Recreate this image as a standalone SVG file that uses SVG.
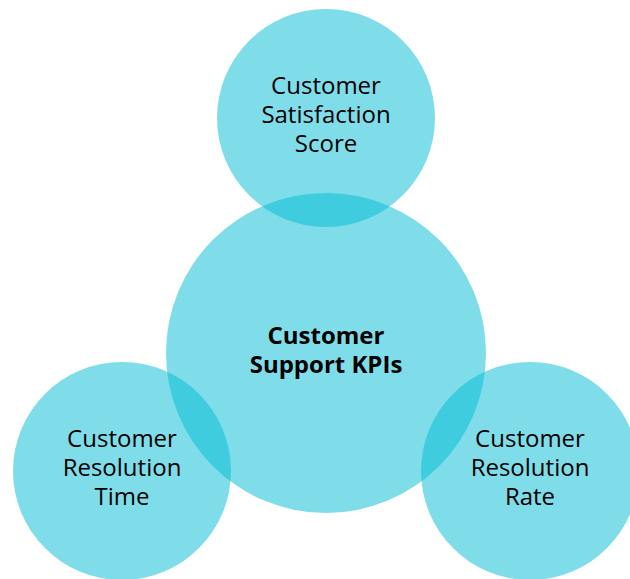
<svg xmlns="http://www.w3.org/2000/svg" width="630" height="579" viewBox="0 0 630 579">
<style>
.c{fill:#00BCD4;fill-opacity:0.5}
.t{font-family:"Open Sans","Noto Sans",sans-serif;font-size:24px;fill:#000;text-anchor:middle}
.b{font-weight:bold}
</style>
<rect width="630" height="579" fill="#fff"/>
<g id="connectors"></g>
<g id="center">
<circle class="c" cx="326" cy="353" r="160"/>
</g>
<g id="top">
<circle class="c" cx="326" cy="118" r="109"/>
</g>
<g id="left">
<circle class="c" cx="122" cy="471" r="109"/>
</g>
<g id="right">
<circle class="c" cx="530" cy="471" r="109"/>
</g>
<g id="labels">
<text class="t b" x="326" y="344">Customer</text>
<text class="t b" x="326" y="373">Support KPIs</text>
<text class="t" x="326" y="94">Customer</text>
<text class="t" x="326" y="123">Satisfaction</text>
<text class="t" x="326" y="152">Score</text>
<text class="t" x="122" y="447">Customer</text>
<text class="t" x="122" y="476">Resolution</text>
<text class="t" x="122" y="505">Time</text>
<text class="t" x="530" y="447">Customer</text>
<text class="t" x="530" y="476">Resolution</text>
<text class="t" x="530" y="505">Rate</text>
</g>
</svg>
